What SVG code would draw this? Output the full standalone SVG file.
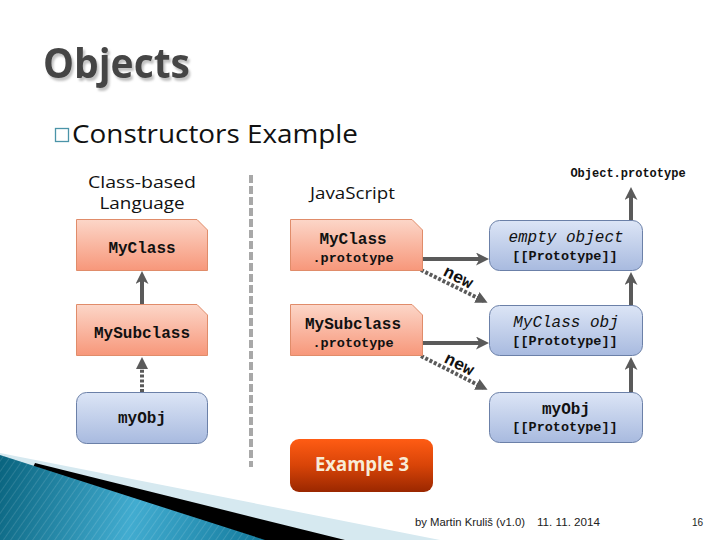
<svg xmlns="http://www.w3.org/2000/svg" width="720" height="540" viewBox="0 0 720 540">
<defs>
<style>
.mono{font-family:"Liberation Mono","Courier New",monospace;fill:#111}
.b{font-weight:bold}
.lbl{font-family:"Open Sans","DejaVu Sans",sans-serif;fill:#111}
.cls{fill:url(#gS);stroke:#e08c6a;stroke-width:1}
.obj{fill:url(#gB);stroke:#6b80a8;stroke-width:1}
.ln{stroke:#5a5a5a;stroke-width:4;fill:none}
.dot{stroke:#5a5a5a;stroke-width:4;fill:none;stroke-dasharray:3 1.8}
.pt{fill:#5a5a5a}
</style>
<filter id="sh" x="-10%" y="-20%" width="130%" height="160%"><feDropShadow dx="2" dy="3" stdDeviation="1.2" flood-color="#9a9a9a" flood-opacity="0.6"/></filter>
<linearGradient id="gS" x1="0" y1="0" x2="0" y2="1"><stop offset="0" stop-color="#fcd6c8"/><stop offset="1" stop-color="#f7977a"/></linearGradient>
<linearGradient id="gB" x1="0" y1="0" x2="0" y2="1"><stop offset="0" stop-color="#dce5f6"/><stop offset="1" stop-color="#a8badf"/></linearGradient>
<linearGradient id="gO" x1="0" y1="0" x2="0" y2="1"><stop offset="0" stop-color="#ff5c14"/><stop offset="0.5" stop-color="#d84408"/><stop offset="1" stop-color="#9a2700"/></linearGradient>
<linearGradient id="gT" gradientUnits="userSpaceOnUse" x1="0" y1="470" x2="270" y2="540"><stop offset="0" stop-color="#0a6580"/><stop offset="0.5" stop-color="#42acd0"/><stop offset="1" stop-color="#11789a"/></linearGradient>
<pattern id="stripe" patternUnits="userSpaceOnUse" width="6" height="6" patternTransform="rotate(35)"><line x1="0" y1="0" x2="0" y2="6" stroke="#ffffff" stroke-opacity="0.12" stroke-width="2"/></pattern>
<marker id="ah" markerUnits="userSpaceOnUse" markerWidth="14" markerHeight="14" refX="9" refY="6.5" orient="auto"><path d="M0,0 L13,6.5 L0,13 L3.5,6.5 Z" fill="#5a5a5a"/></marker>
<marker id="ahd" markerUnits="userSpaceOnUse" markerWidth="14" markerHeight="14" refX="8" refY="6" orient="auto"><path d="M0,0 L12,6 L0,12 Z" fill="#5a5a5a"/></marker>
</defs>
<rect width="720" height="540" fill="#ffffff"/>

<!-- bottom-left decoration -->
<polygon points="0,453 440,540 0,540" fill="#d6e9f0"/>
<polygon points="35,463 345,540 0,540" fill="#000000"/>
<polygon points="0,455 265,540 0,540" fill="url(#gT)"/>
<polygon points="0,455 265,540 0,540" fill="url(#stripe)"/>

<!-- title -->
<text x="43" y="78" font-family="Open Sans,DejaVu Sans,sans-serif" font-weight="bold" font-size="41" fill="#454545" filter="url(#sh)" textLength="147" lengthAdjust="spacingAndGlyphs">Objects</text>
<rect x="55.5" y="128.5" width="13" height="13" fill="none" stroke="#4b94a8" stroke-width="1.3"/>
<text x="72" y="143" class="lbl" font-size="26" textLength="286" lengthAdjust="spacingAndGlyphs">Constructors Example</text>

<text x="142" y="188" class="lbl" font-size="17" text-anchor="middle" textLength="108" lengthAdjust="spacingAndGlyphs">Class-based</text>
<text x="142" y="209" class="lbl" font-size="17" text-anchor="middle" textLength="85" lengthAdjust="spacingAndGlyphs">Language</text>
<text x="310" y="199" class="lbl" font-size="17" textLength="85" lengthAdjust="spacingAndGlyphs">JavaScript</text>

<line x1="251" y1="175" x2="251" y2="467" stroke="#a8a8a8" stroke-width="4" stroke-dasharray="8 3"/>

<!-- connectors -->
<g id="connectors">
<line class="ln" x1="142" y1="304" x2="142" y2="275" marker-end="url(#ah)"/>
<line class="dot" x1="142" y1="392" x2="142" y2="361" marker-end="url(#ahd)"/>
<line class="ln" x1="404" y1="259" x2="485" y2="259" marker-end="url(#ah)"/>
<line class="ln" x1="404" y1="343" x2="485" y2="343" marker-end="url(#ah)"/>
<line class="ln" x1="631" y1="255" x2="631" y2="191" marker-end="url(#ah)"/>
<line class="ln" x1="631" y1="341" x2="631" y2="276" marker-end="url(#ah)"/>
<line class="ln" x1="631" y1="428" x2="631" y2="361" marker-end="url(#ah)"/>
<line class="dot" x1="421" y1="270" x2="484" y2="301" marker-end="url(#ahd)"/>
<line class="dot" x1="421" y1="356" x2="484" y2="388" marker-end="url(#ahd)"/>
<circle class="pt" cx="404" cy="259" r="4.5"/>
<circle class="pt" cx="404" cy="343" r="4.5"/>
<circle class="pt" cx="631" cy="255" r="4.5"/>
<circle class="pt" cx="631" cy="341" r="4.5"/>
<circle class="pt" cx="631" cy="428" r="4.5"/>
<text class="mono b" font-size="17" text-anchor="middle" transform="translate(456,282) rotate(27)">new</text>
<text class="mono b" font-size="17" text-anchor="middle" transform="translate(457,369) rotate(27)">new</text>
</g>

<text x="628" y="177" class="mono b" font-size="12" text-anchor="middle">Object.prototype</text>

<!-- left column -->
<g id="cb-myclass">
<path class="cls" d="M76.5,219.5 H197 L207.5,230 V270.5 H76.5 Z"/>
<text x="142" y="253" class="mono b" font-size="16" text-anchor="middle">MyClass</text>
</g>
<g id="cb-mysubclass">
<path class="cls" d="M76.5,304.5 H197 L207.5,315 V355.5 H76.5 Z"/>
<text x="142" y="338" class="mono b" font-size="16" text-anchor="middle">MySubclass</text>
</g>
<g id="cb-myobj">
<rect class="obj" x="76.5" y="392.5" width="131" height="51" rx="10"/>
<text x="142" y="423" class="mono b" font-size="16" text-anchor="middle">myObj</text>
</g>

<!-- JS column -->
<g id="js-myclass-proto">
<path class="cls" d="M290.5,219.5 H412 L422.5,230 V270.5 H290.5 Z"/>
<text x="353" y="244" class="mono b" font-size="16" text-anchor="middle">MyClass</text>
<text x="353" y="262" class="mono b" font-size="13.5" text-anchor="middle">.prototype</text>
</g>
<g id="js-mysubclass-proto">
<path class="cls" d="M290.5,304.5 H412 L422.5,315 V355.5 H290.5 Z"/>
<text x="353" y="329" class="mono b" font-size="16" text-anchor="middle">MySubclass</text>
<text x="353" y="347" class="mono b" font-size="13.5" text-anchor="middle">.prototype</text>
</g>
<g id="js-empty">
<rect class="obj" x="489.5" y="220.5" width="153" height="50" rx="10"/>
<text x="566" y="242" class="mono" font-style="italic" font-size="16" text-anchor="middle">empty object</text>
<text x="565" y="260" class="mono b" font-size="13.5" text-anchor="middle">[[Prototype]]</text>
</g>
<g id="js-myclassobj">
<rect class="obj" x="489.5" y="305.5" width="153" height="50" rx="10"/>
<text x="566" y="327" class="mono" font-style="italic" font-size="16" text-anchor="middle">MyClass obj</text>
<text x="565" y="345" class="mono b" font-size="13.5" text-anchor="middle">[[Prototype]]</text>
</g>
<g id="js-myobj">
<rect class="obj" x="489.5" y="392.5" width="153" height="50" rx="10"/>
<text x="566" y="414" class="mono b" font-size="16" text-anchor="middle">myObj</text>
<text x="565" y="431" class="mono b" font-size="13.5" text-anchor="middle">[[Prototype]]</text>
</g>

<!-- button -->
<g id="example3">
<rect x="290" y="439" width="143" height="53" rx="9" fill="url(#gO)"/>
<text x="362" y="471" font-family="Open Sans,DejaVu Sans,sans-serif" font-weight="bold" font-size="19" fill="#f8ecd6" text-anchor="middle" textLength="94" lengthAdjust="spacingAndGlyphs">Example  3</text>
</g>

<!-- footer -->
<text x="415" y="526" font-family="Liberation Sans,Arial,sans-serif" font-size="10" fill="#222" textLength="110" lengthAdjust="spacingAndGlyphs">by Martin Kruliš (v1.0)</text>
<text x="537" y="526" font-family="Liberation Sans,Arial,sans-serif" font-size="10" fill="#222" textLength="63" lengthAdjust="spacingAndGlyphs">11. 11. 2014</text>
<text x="703" y="526" font-family="Liberation Sans,Arial,sans-serif" font-size="10" fill="#222" text-anchor="end">16</text>
</svg>
